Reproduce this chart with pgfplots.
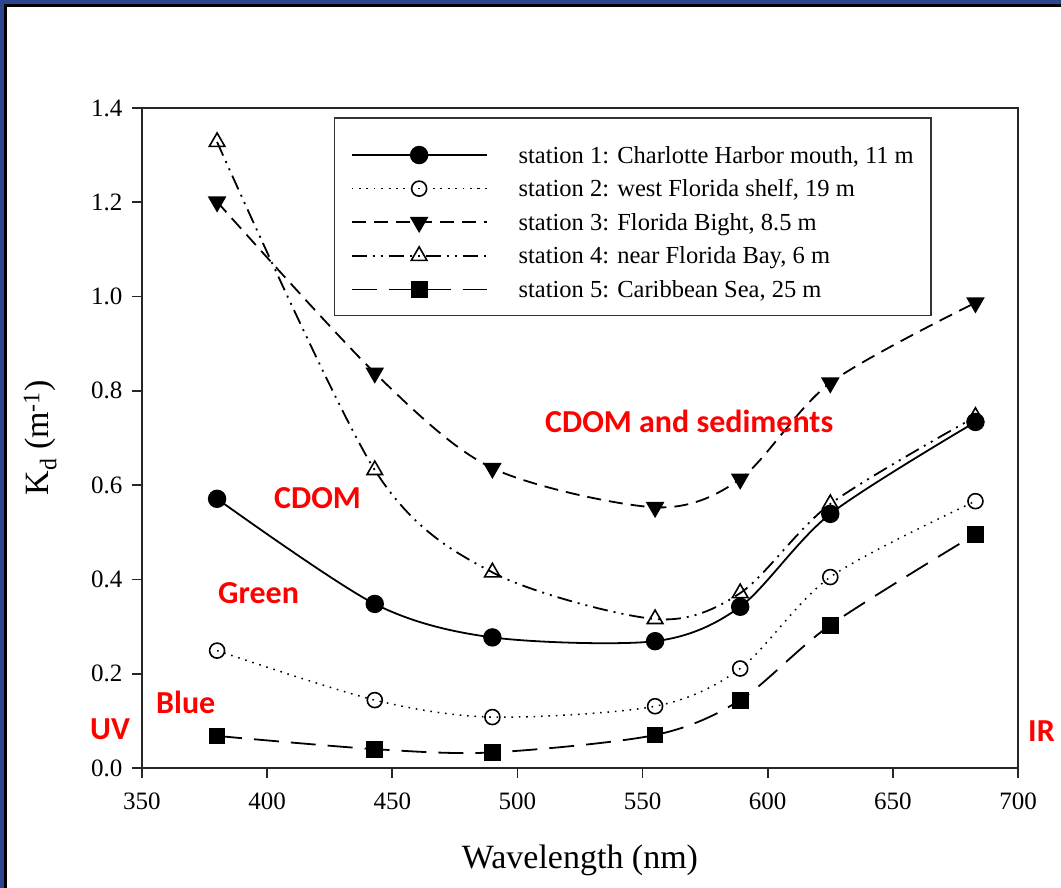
\documentclass[border=0pt]{standalone}
\usepackage{pgfplots}
\pgfplotsset{compat=1.18}
\usepackage{fontspec}
\setmainfont{Liberation Serif}
\newfontfamily\redfont{Carlito}
\definecolor{navy}{HTML}{2B4590}
\definecolor{redtxt}{HTML}{FF0000}
\begin{document}
\begin{tikzpicture}[x=1pt,y=1pt]
\fill[navy] (0,0) rectangle (1061,888);
\fill[black] (4,0) rectangle (1061,884);
\fill[white] (7,0) rectangle (1061,881);
\begin{axis}[
  at={(142pt,120pt)}, anchor=south west,
  scale only axis, width=876pt, height=660pt,
  xmin=350, xmax=700, ymin=0, ymax=1.4,
  xtick={350,400,450,500,550,600,650,700},
  ytick={0,0.2,0.4,0.6,0.8,1.0,1.2,1.4},
  tick align=outside, major tick length=10pt,
  xtick pos=bottom, ytick pos=left,
  axis line style={line width=1.6pt, black!85},
  every tick/.style={line width=1.6pt, black!85},
  yticklabel style={xshift=-6pt, /pgf/number format/.cd, fixed, fixed zerofill, precision=1},
  xticklabel style={yshift=-11pt},
  /pgf/number format/assume math mode=true,
  ticklabel style={font=\fontsize{25}{29}\selectfont},
  xlabel={Wavelength (nm)},
  ylabel={K\textsubscript{d} (m\textsuperscript{-1})},
  label style={font=\fontsize{34}{40}\selectfont},
  xlabel style={at={(axis description cs:0.5,-0.1394)}, anchor=center},
  ylabel style={at={(axis description cs:-0.1164,0.5)}, anchor=center},
  legend style={at={(0.219,0.986)}, anchor=north west, draw=black!80, line width=1.6pt,
    font=\fontsize{24.5}{28}\selectfont, inner xsep=17pt, inner ysep=16pt,
    row sep=2.6pt, nodes={inner sep=0pt, text height=20pt, text depth=2pt},
    /tikz/every odd column/.append style={column sep=32pt}},
  legend cell align=left,
  legend image code/.code={
    \begin{pgfinterruptboundingbox}
    \draw[mark repeat=2, mark phase=2, #1] plot coordinates {(0pt,-1pt) (67.5pt,-1pt) (135pt,-1pt)};
    \end{pgfinterruptboundingbox}
    \pgfpathrectangle{\pgfpoint{0pt}{-2pt}}{\pgfpoint{135pt}{22pt}}\pgfusepath{use as bounding box}
  },
]
\addplot[smooth, black, line width=1.8pt, mark=*, mark size=8.3pt, mark options={solid, fill=black}]
  coordinates {(380,0.571) (443,0.348) (490,0.277) (555,0.269) (589,0.342) (625,0.539) (683,0.734)};
\addlegendentry{station 1: Charlotte Harbor mouth, 11 m}
\addplot[smooth, black, line width=1.5pt, dash pattern=on 1.6pt off 5.8pt, mark=o, mark size=7.5pt, mark options={solid, fill=white, line width=1.6pt}]
  coordinates {(380,0.249) (443,0.144) (490,0.108) (555,0.131) (589,0.211) (625,0.405) (683,0.566)};
\addlegendentry{station 2: west Florida shelf, 19 m}
\addplot[smooth, black, line width=1.8pt, dash pattern=on 14pt off 8pt, mark=triangle*, mark size=9pt, mark options={solid, fill=black, rotate=180}]
  coordinates {(380,1.201) (443,0.838) (490,0.636) (555,0.553) (589,0.613) (625,0.817) (683,0.987)};
\addlegendentry{station 3: Florida Bight, 8.5 m}
\addplot[smooth, black, line width=1.8pt, dash pattern=on 15pt off 6pt on 2pt off 6pt on 2pt off 6pt, mark=triangle, mark size=9pt, mark options={solid, fill=white, line width=1.6pt}]
  coordinates {(380,1.328) (443,0.632) (490,0.415) (555,0.316) (589,0.371) (625,0.560) (683,0.745)};
\addlegendentry{station 4: near Florida Bay, 6 m}
\addplot[smooth, black, line width=1.8pt, dash pattern=on 25pt off 12pt, mark=square*, mark size=7.5pt, mark options={solid, fill=black}]
  coordinates {(380,0.068) (443,0.040) (490,0.033) (555,0.070) (589,0.144) (625,0.303) (683,0.496)};
\addlegendentry{station 5: Caribbean Sea, 25 m}
\end{axis}
\begin{scope}[every node/.style={text=redtxt, font=\redfont\bfseries\fontsize{32}{36}\selectfont, inner sep=0pt, anchor=west}]
\node at (545,467) {CDOM and sediments};
\node at (274,390) {CDOM};
\node at (218,295) {Green};
\node at (156,186) {Blue};
\node at (90,159) {UV};
\node at (1028,157) {IR};
\end{scope}
\end{tikzpicture}
\end{document}
